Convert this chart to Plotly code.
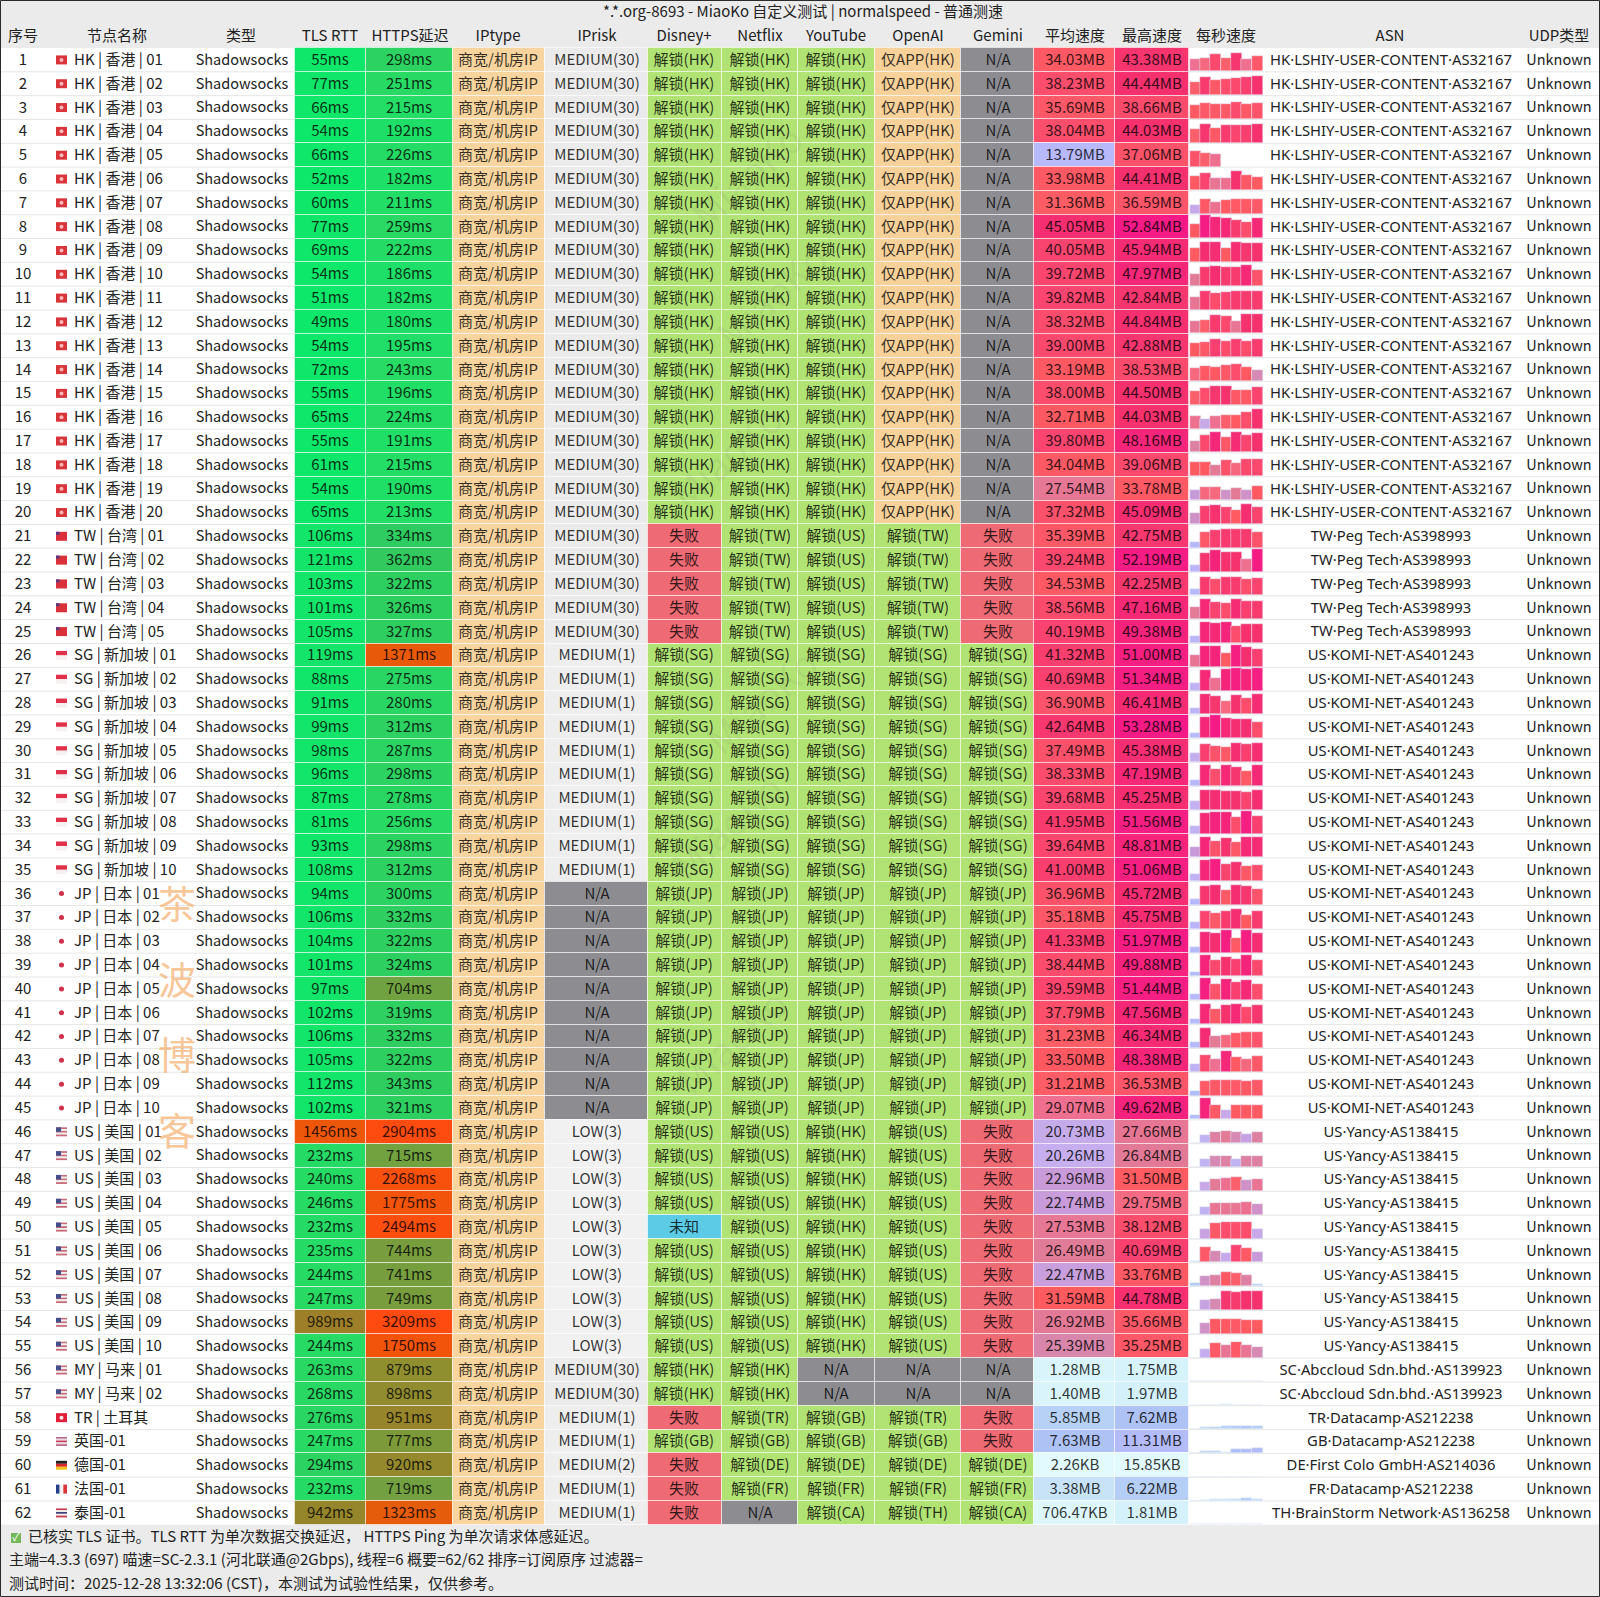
import re
import plotly.graph_objects as go

# ---- data ----
headers = ["序号", "节点名称", "类型", "TLS RTT", "HTTPS延迟", "IPtype", "IPrisk", "Disney+", "Netflix",
           "YouTube", "OpenAI", "Gemini", "平均速度", "最高速度", "每秒速度", "ASN", "UDP类型"]

names = ([f"HK | 香港 | {i:02d}" for i in range(1, 21)]
         + [f"TW | 台湾 | {i:02d}" for i in range(1, 6)]
         + [f"SG | 新加坡 | {i:02d}" for i in range(1, 11)]
         + [f"JP | 日本 | {i:02d}" for i in range(1, 11)]
         + [f"US | 美国 | {i:02d}" for i in range(1, 11)]
         + ["MY | 马来 | 01", "MY | 马来 | 02", "TR | 土耳其", "英国-01", "德国-01", "法国-01", "泰国-01"])

flags = (["HK"] * 20 + ["TW"] * 5 + ["SG"] * 10 + ["JP"] * 10 + ["US"] * 10
         + ["MY", "MY", "TR", "GB", "DE", "FR", "TH"])

tls_rtt = [55, 77, 66, 54, 66, 52, 60, 77, 69, 54, 51, 49, 54, 72, 55, 65, 55, 61, 54, 65,
           106, 121, 103, 101, 105,
           119, 88, 91, 99, 98, 96, 87, 81, 93, 108,
           94, 106, 104, 101, 97, 102, 106, 105, 112, 102,
           1456, 232, 240, 246, 232, 235, 244, 247, 989, 244,
           263, 268, 276, 247, 294, 232, 942]

https_delay = [298, 251, 215, 192, 226, 182, 211, 259, 222, 186, 182, 180, 195, 243, 196, 224, 191, 215, 190, 213,
               334, 362, 322, 326, 327,
               1371, 275, 280, 312, 287, 298, 278, 256, 298, 312,
               300, 332, 322, 324, 704, 319, 332, 322, 343, 321,
               2904, 715, 2268, 1775, 2494, 744, 741, 749, 3209, 1750,
               879, 898, 951, 777, 920, 719, 1323]

iprisk = (["MEDIUM(30)"] * 25 + ["MEDIUM(1)"] * 10 + ["N/A"] * 10 + ["LOW(3)"] * 10
          + ["MEDIUM(30)"] * 2 + ["MEDIUM(1)"] * 2 + ["MEDIUM(2)", "MEDIUM(1)", "MEDIUM(1)"])

disney = (["解锁(HK)"] * 20 + ["失败"] * 5 + ["解锁(SG)"] * 10 + ["解锁(JP)"] * 10
          + ["解锁(US)"] * 4 + ["未知"] + ["解锁(US)"] * 5
          + ["解锁(HK)"] * 2 + ["失败", "解锁(GB)", "失败", "失败", "失败"])
netflix = (["解锁(HK)"] * 20 + ["解锁(TW)"] * 5 + ["解锁(SG)"] * 10 + ["解锁(JP)"] * 10 + ["解锁(US)"] * 10
           + ["解锁(HK)"] * 2 + ["解锁(TR)", "解锁(GB)", "解锁(DE)", "解锁(FR)", "N/A"])
youtube = (["解锁(HK)"] * 20 + ["解锁(US)"] * 5 + ["解锁(SG)"] * 10 + ["解锁(JP)"] * 10 + ["解锁(HK)"] * 10
           + ["N/A"] * 2 + ["解锁(GB)", "解锁(GB)", "解锁(DE)", "解锁(FR)", "解锁(CA)"])
openai = (["仅APP(HK)"] * 20 + ["解锁(TW)"] * 5 + ["解锁(SG)"] * 10 + ["解锁(JP)"] * 10 + ["解锁(US)"] * 10
          + ["N/A"] * 2 + ["解锁(TR)", "解锁(GB)", "解锁(DE)", "解锁(FR)", "解锁(TH)"])
gemini = (["N/A"] * 20 + ["失败"] * 5 + ["解锁(SG)"] * 10 + ["解锁(JP)"] * 10 + ["失败"] * 10
          + ["N/A"] * 2 + ["失败", "失败", "解锁(DE)", "解锁(FR)", "解锁(CA)"])

avg_speed = ["34.03MB", "38.23MB", "35.69MB", "38.04MB", "13.79MB", "33.98MB", "31.36MB", "45.05MB", "40.05MB", "39.72MB",
             "39.82MB", "38.32MB", "39.00MB", "33.19MB", "38.00MB", "32.71MB", "39.80MB", "34.04MB", "27.54MB", "37.32MB",
             "35.39MB", "39.24MB", "34.53MB", "38.56MB", "40.19MB",
             "41.32MB", "40.69MB", "36.90MB", "42.64MB", "37.49MB", "38.33MB", "39.68MB", "41.95MB", "39.64MB", "41.00MB",
             "36.96MB", "35.18MB", "41.33MB", "38.44MB", "39.59MB", "37.79MB", "31.23MB", "33.50MB", "31.21MB", "29.07MB",
             "20.73MB", "20.26MB", "22.96MB", "22.74MB", "27.53MB", "26.49MB", "22.47MB", "31.59MB", "26.92MB", "25.39MB",
             "1.28MB", "1.40MB", "5.85MB", "7.63MB", "2.26KB", "3.38MB", "706.47KB"]

max_speed = ["43.38MB", "44.44MB", "38.66MB", "44.03MB", "37.06MB", "44.41MB", "36.59MB", "52.84MB", "45.94MB", "47.97MB",
             "42.84MB", "44.84MB", "42.88MB", "38.53MB", "44.50MB", "44.03MB", "48.16MB", "39.06MB", "33.78MB", "45.09MB",
             "42.75MB", "52.19MB", "42.25MB", "47.16MB", "49.38MB",
             "51.00MB", "51.34MB", "46.41MB", "53.28MB", "45.38MB", "47.19MB", "45.25MB", "51.56MB", "48.81MB", "51.06MB",
             "45.72MB", "45.75MB", "51.97MB", "49.88MB", "51.44MB", "47.56MB", "46.34MB", "48.38MB", "36.53MB", "49.62MB",
             "27.66MB", "26.84MB", "31.50MB", "29.75MB", "38.12MB", "40.69MB", "33.76MB", "44.78MB", "35.66MB", "35.25MB",
             "1.75MB", "1.97MB", "7.62MB", "11.31MB", "15.85KB", "6.22MB", "1.81MB"]

# per-second speed, MB/s, seven samples per row
per_second = [
    [29, 30, 39, 31, 43, 29, 36], [31, 42, 35, 38, 39, 41, 44], [32, 36, 35, 35, 38.6, 34, 37], [31, 43, 34, 42, 40, 41, 44],
    [37, 31, 29, None, None, None, None], [33, 40, 28, 29, 44, 35, 32], [21, 35, 29, 32, 34, 34, 36], [33, 52, 48, 47, 42, 38, 47],
    [32, 45, 45, 32, 45, 43, 44], [27, 42, 45, 42, 42, 47, 37], [28, 42, 38, 40, 42, 42, 42], [28, 31, 42, 39, 28, 44, 44],
    [33, 36, 41, 38, 41, 38, 42], [30, 34, 33, 36, 38, 33, 25], [31, 38, 43, 44, 35, 34, 40], [29, 21, 29, 31, 32, 38, 44],
    [26, 39, 48, 36, 46, 40, 44], [32, 32, 27, 37, 30, 39, 39], [23, 30, 30, 24, 27, 24, 33], [24, 41, 44, 40, 32, 45, 40],
    [14, 36, 41, 42, 42, 42, 37], [16, 43, 49, 44, 44, 29, 52], [14, 42, 38, 42, 42, 38, 40], [27, 47, 40, 38, 46, 41, 42],
    [15, 48, 47, 49, 38, 44, 44], [28, 49, 49, 32, 51, 45, 41], [18, 47, 29, 49, 51, 49, 51], [16, 46, 43, 30, 44, 38, 46],
    [13, 48, 53, 47, 45, 45, 38], [20, 41, 37, 35, 45, 41, 45], [14, 47, 38, 47, 43, 34, 47], [19, 45, 45, 44, 44, 40, 45],
    [18, 47, 50, 49, 38, 51, 41], [23, 48, 37, 44, 36, 47, 46], [17, 48, 51, 40, 44, 35, 38], [14, 43, 45, 35, 45, 43, 37],
    [15, 40, 36, 42, 45, 32, 42], [12, 47, 45, 51, 34, 51, 45], [11, 49, 39, 44, 41, 49, 39], [14, 51, 37, 49, 41, 47, 38],
    [12, 47, 35, 44, 47, 39, 43], [13, 46, 27, 30, 34, 36, 37], [18, 39, 29, 48, 33, 30, 36], [10, 34, 36, 36, 36, 34, 36],
    [11, 49, 34, 21, 32, 32, 32], [1, 18, 26, 27, 25, 22, 26], [1, 18, 25, 26, 18, 26, 26], [0, 21, 27, 29, 31, 24, 28],
    [0, 18, 28, 28, 28, 29, 24], [0, 22, 36, 38, 38, 38, 21], [4, 36, 25, 21, 40, 34, 23], [7, 24, 26, 33, 31, 26, 5],
    [0, 22, 25, 43, 42, 44, 44], [0, 24, 33, 33, 35, 32, 32], [0, 20, 34, 28, 35, 28, 25], [0, 1.3, 1.5, 1.4, 1.7, 1.3, 1.2],
    [0, 1.4, 1.5, 1.9, 1.6, 1.3, 1.2], [0, 4.5, 5.5, 6, 6.5, 7.6, 6.5], [0, 5, 5, 2, 9, 9.5, 11], [0, 0, 0, 0, 0, 0, 0],
    [0, 1.5, 2.5, 3, 3.5, 6.2, 4], [0, 0.5, 0.9, 1.2, 1.8, 1, 0.7],
]

asn = (["HK·LSHIY-USER-CONTENT·AS32167"] * 20 + ["TW·Peg Tech·AS398993"] * 5 + ["US·KOMI-NET·AS401243"] * 20
       + ["US·Yancy·AS138415"] * 10 + ["SC·Abccloud Sdn.bhd.·AS139923"] * 2
       + ["TR·Datacamp·AS212238", "GB·Datacamp·AS212238", "DE·First Colo GmbH·AS214036",
          "FR·Datacamp·AS212238", "TH·BrainStorm Network·AS136258"])

title = "*.*.org-8693 - MiaoKo 自定义测试 | normalspeed - 普通测速"
footer_lines = ["已核实 TLS 证书。TLS RTT 为单次数据交换延迟， HTTPS Ping 为单次请求体感延迟。",
                "主端=4.3.3 (697) 喵速=SC-2.3.1 (河北联通@2Gbps), 线程=6 概要=62/62 排序=订阅原序 过滤器=",
                "测试时间：2025-12-28 13:32:06 (CST)，本测试为试验性结果，仅供参考。"]

# ---- layout constants, pixels ----
FONT = "Noto Sans CJK SC"
LATIN_FONT = "Noto Sans, Noto Sans CJK SC"
W, H = 1600, 1597
ROW_TOP, ROW_H = 48, 23.82
TEXT_DY = 1.2
n_rows = len(names)
row_mid = [ROW_TOP + ROW_H * (i + 0.5) for i in range(n_rows)]

col_edges = {"tls": (295, 365.5), "https": (365.5, 453), "iptype": (453, 545), "iprisk": (545, 648),
             "disney": (648, 721.5), "netflix": (721.5, 798), "youtube": (798, 874.5), "openai": (874.5, 961),
             "gemini": (961, 1034), "avg": (1034, 1115), "max": (1115, 1189)}
header_x = [23, 117, 241, 330, 410, 498, 597, 684, 760, 836, 918, 998, 1075, 1152, 1226, 1390, 1559]
SPARK_LEFT, SPARK_SLOT = 1190, 10.33
SPARK_PX_PER_MB = 1 / 2.3

status_colors = {"解锁": "#b0e274", "仅APP": "#f7d19a", "失败": "#ee6a74", "N/A": "#8d8d91", "未知": "#5ccbe6"}
risk_colors = {"N/A": "#8d8d91", "MEDIUM(30)": "#ebebeb", "MEDIUM(1)": "#eeeeee", "MEDIUM(2)": "#eeeeee", "LOW(3)": "#f1f1f1"}

latency_stops = [(0, "#08ea6a"), (120, "#14e46a"), (250, "#28da64"), (350, "#30cb60"), (720, "#73a040"),
                 (880, "#8f8f30"), (990, "#9c7f28"), (1320, "#e55c0a"), (1500, "#f0560a"), (3000, "#ff4a10")]
speed_stops = [(0, "#e2fafd"), (1.5, "#d8f4fb"), (3.4, "#c8e3f8"), (6, "#b6d0f6"), (8, "#adbff6"), (13.8, "#b8b8fc"),
               (20.3, "#c6aeef"), (23, "#c89ad8"), (26.5, "#e07c98"), (29, "#ee7090"), (31.6, "#ff5a60"),
               (36, "#fd5868"), (40, "#fa4470"), (44, "#f5316e"), (53, "#f51a86"), (55, "#f51a86")]


def scale_of(stops):
    top = stops[-1][0]
    return [[v / top, c] for v, c in stops]


def parse_speed(s):
    # cells are strings, bring them to MB
    num, unit = re.match(r"([\d.]+)(KB|MB)", s).groups()
    return float(num) / (1024 if unit == "KB" else 1)


def status_color(s):
    for key, c in status_colors.items():
        if s.startswith(key):
            return c
    return "#ffffff"


fig = go.Figure()


def add_cells(col, marker):
    left, right = col_edges[col]
    fig.add_trace(go.Bar(x=[(left + right) / 2] * n_rows, y=[ROW_H] * n_rows,
                         base=[ROW_TOP + ROW_H * i for i in range(n_rows)],
                         width=right - left, marker=dict(line=dict(color="rgba(255,255,255,0.55)", width=1), **marker),
                         hoverinfo="skip", showlegend=False))


def add_text(x, y, text, size=15, color="#222222", pos="middle center", family=FONT):
    fig.add_trace(go.Scatter(x=x, y=[v + TEXT_DY for v in y], mode="text", text=text, textposition=pos,
                             textfont=dict(family=family, size=size, color=color),
                             hoverinfo="skip", showlegend=False, cliponaxis=False))


lat_marker = dict(colorscale=scale_of(latency_stops), cmin=0, cmax=latency_stops[-1][0], showscale=False)
spd_marker = dict(colorscale=scale_of(speed_stops), cmin=0, cmax=speed_stops[-1][0], showscale=False)
avg_values = [parse_speed(s) for s in avg_speed]
max_values = [parse_speed(s) for s in max_speed]

add_cells("tls", dict(color=tls_rtt, **lat_marker))
add_cells("https", dict(color=https_delay, **lat_marker))
add_cells("iptype", dict(color=["#f8d49e"] * n_rows))
add_cells("iprisk", dict(color=[risk_colors[s] for s in iprisk]))
add_cells("disney", dict(color=[status_color(s) for s in disney]))
add_cells("netflix", dict(color=[status_color(s) for s in netflix]))
add_cells("youtube", dict(color=[status_color(s) for s in youtube]))
add_cells("openai", dict(color=[status_color(s) for s in openai]))
add_cells("gemini", dict(color=[status_color(s) for s in gemini]))
add_cells("avg", dict(color=avg_values, **spd_marker))
add_cells("max", dict(color=max_values, **spd_marker))

# per-second bars, one trace per sample slot
for slot in range(7):
    vals = [row[slot] for row in per_second]
    fig.add_trace(go.Bar(x=[SPARK_LEFT + SPARK_SLOT * (slot + 0.5)] * n_rows,
                         y=[None if v is None else -v * SPARK_PX_PER_MB for v in vals],
                         base=[ROW_TOP + ROW_H * (i + 1) - 0.5 for i in range(n_rows)],
                         width=SPARK_SLOT + 0.7, marker=dict(color=[v or 0 for v in vals], **spd_marker),
                         hoverinfo="skip", showlegend=False))

# table text
ink = "rgba(0,0,0,0.8)"
add_text(header_x, [36] * len(headers), headers)
add_text([23] * n_rows, row_mid, [str(i + 1) for i in range(n_rows)])
add_text([74] * n_rows, row_mid, names, pos="middle right")
add_text([242] * n_rows, row_mid, ["Shadowsocks"] * n_rows, size=14.5)
add_text([330] * n_rows, row_mid, [f"{v}ms" for v in tls_rtt], color=ink)
add_text([409] * n_rows, row_mid, [f"{v}ms" for v in https_delay], color=ink)
add_text([498] * n_rows, row_mid, ["商宽/机房IP"] * n_rows, color=ink)
add_text([597] * n_rows, row_mid, iprisk, color=ink)
add_text([684] * n_rows, row_mid, disney, color=ink)
add_text([760] * n_rows, row_mid, netflix, color=ink)
add_text([836] * n_rows, row_mid, youtube, color=ink)
add_text([918] * n_rows, row_mid, openai, color=ink)
add_text([998] * n_rows, row_mid, gemini, color=ink)
add_text([1075] * n_rows, row_mid, avg_speed, color=ink)
add_text([1152] * n_rows, row_mid, max_speed, color=ink)
add_text([1391] * n_rows, row_mid, asn, size=14.8, family=LATIN_FONT)
add_text([1559] * n_rows, row_mid, ["Unknown"] * n_rows, size=14.5)

add_text([803], [12.5], [title], size=15)
add_text([28], [1537.5], [footer_lines[0]], pos="middle right")
add_text([9], [1560.5], [footer_lines[1]], pos="middle right")
add_text([9], [1584.5], [footer_lines[2]], pos="middle right")
add_text([16], [1537], ["✓"], size=11, color="#ffffff")

# watermark characters over the name column
add_text([177] * 4, [907, 983, 1058, 1134], list("茶波博客"), size=38, color="rgba(245,170,100,0.68)")

shapes = [dict(type="rect", x0=0, x1=W, y0=ROW_TOP, y1=ROW_TOP + ROW_H * n_rows, layer="below",
               fillcolor="#ffffff", line_width=0)]
for i in range(1, n_rows):
    y = ROW_TOP + ROW_H * i
    shapes.append(dict(type="line", x0=0, x1=W, y0=y, y1=y, layer="below", line=dict(color="#e6e6e6", width=1)))

# flags as colour bands
FLAG_L, FLAG_R, FLAG_HALF = 56, 67, 4.5
bands = {"HK": ("h", ["#d8343a"]), "TW": ("h", ["#d9303a"]), "SG": ("h", ["#e0304a", "#f6f0f0"]), "JP": ("h", ["#ffffff"]),
         "US": ("h", ["#c86a78", "#eeeeee", "#c86a78", "#eeeeee", "#c86a78"]),
         "MY": ("h", ["#c86a78", "#eeeeee", "#c86a78", "#eeeeee", "#c86a78"]), "TR": ("h", ["#e0203a"]),
         "GB": ("h", ["#b86a88", "#e8d8e0", "#c83a58", "#e8d8e0", "#b86a88"]), "DE": ("h", ["#222222", "#d8282a", "#f2c820"]),
         "FR": ("v", ["#27408b", "#f2f2f2", "#d8343a"]), "TH": ("h", ["#c83a4a", "#eeeeee", "#3a3a78", "#eeeeee", "#c83a4a"])}
dots = {"HK": ("#f8b8b8", 2), "JP": ("#d0304a", 2.5), "TR": ("#fbe8e8", 2)}
corners = {"TW": ("#5a3a80", 3.5, 3), "US": ("#44508c", 5, 4.5), "MY": ("#44508c", 5, 4.5)}
for code, y in zip(flags, row_mid):
    direction, cols = bands[code]
    for k, c in enumerate(cols):
        if direction == "h":
            box = dict(x0=FLAG_L, x1=FLAG_R, y0=y - FLAG_HALF + 2 * FLAG_HALF * k / len(cols),
                       y1=y - FLAG_HALF + 2 * FLAG_HALF * (k + 1) / len(cols))
        else:
            box = dict(y0=y - FLAG_HALF, y1=y + FLAG_HALF, x0=FLAG_L + (FLAG_R - FLAG_L) * k / len(cols),
                       x1=FLAG_L + (FLAG_R - FLAG_L) * (k + 1) / len(cols))
        shapes.append(dict(type="rect", fillcolor=c, line_width=0, **box))
    if code in corners:
        c, cw, ch = corners[code]
        shapes.append(dict(type="rect", fillcolor=c, line_width=0, x0=FLAG_L, x1=FLAG_L + cw, y0=y - FLAG_HALF, y1=y - FLAG_HALF + ch))
    if code in dots:
        c, r = dots[code]
        shapes.append(dict(type="circle", fillcolor=c, line_width=0, x0=61.5 - r, x1=61.5 + r, y0=y - r, y1=y + r))

# footer tick box and the thin frame of the screenshot
shapes.append(dict(type="rect", x0=11, x1=21, y0=1533, y1=1543, layer="below", fillcolor="#74b85a", line_width=0))
shapes.append(dict(type="rect", x0=0.5, x1=W - 0.5, y0=0.5, y1=H - 0.5, line=dict(color="#2a2a2a", width=1)))

# faint diagonal watermark
marks = [(745, 175), (770, 295), (725, 455), (760, 700), (725, 825), (730, 1040)]
annotations = [dict(x=x, y=y, text="MiaoKo", showarrow=False, textangle=-42, xref="x", yref="y",
                    font=dict(family=FONT, size=38, color="rgba(90,90,90,0.08)")) for x, y in marks]

fig.update_layout(
    width=W, height=H, margin=dict(l=0, r=0, t=0, b=0), autosize=False,
    barmode="overlay", bargap=0,
    paper_bgcolor="#ebebeb", plot_bgcolor="#ebebeb",
    xaxis=dict(range=[0, W], visible=False, fixedrange=True),
    yaxis=dict(range=[H, 0], visible=False, fixedrange=True),
    shapes=shapes, annotations=annotations, showlegend=False,
)

fig.write_html("out.html", post_script="document.body.style.margin='0';document.body.style.overflow='hidden';",
               config=dict(displayModeBar=False))
